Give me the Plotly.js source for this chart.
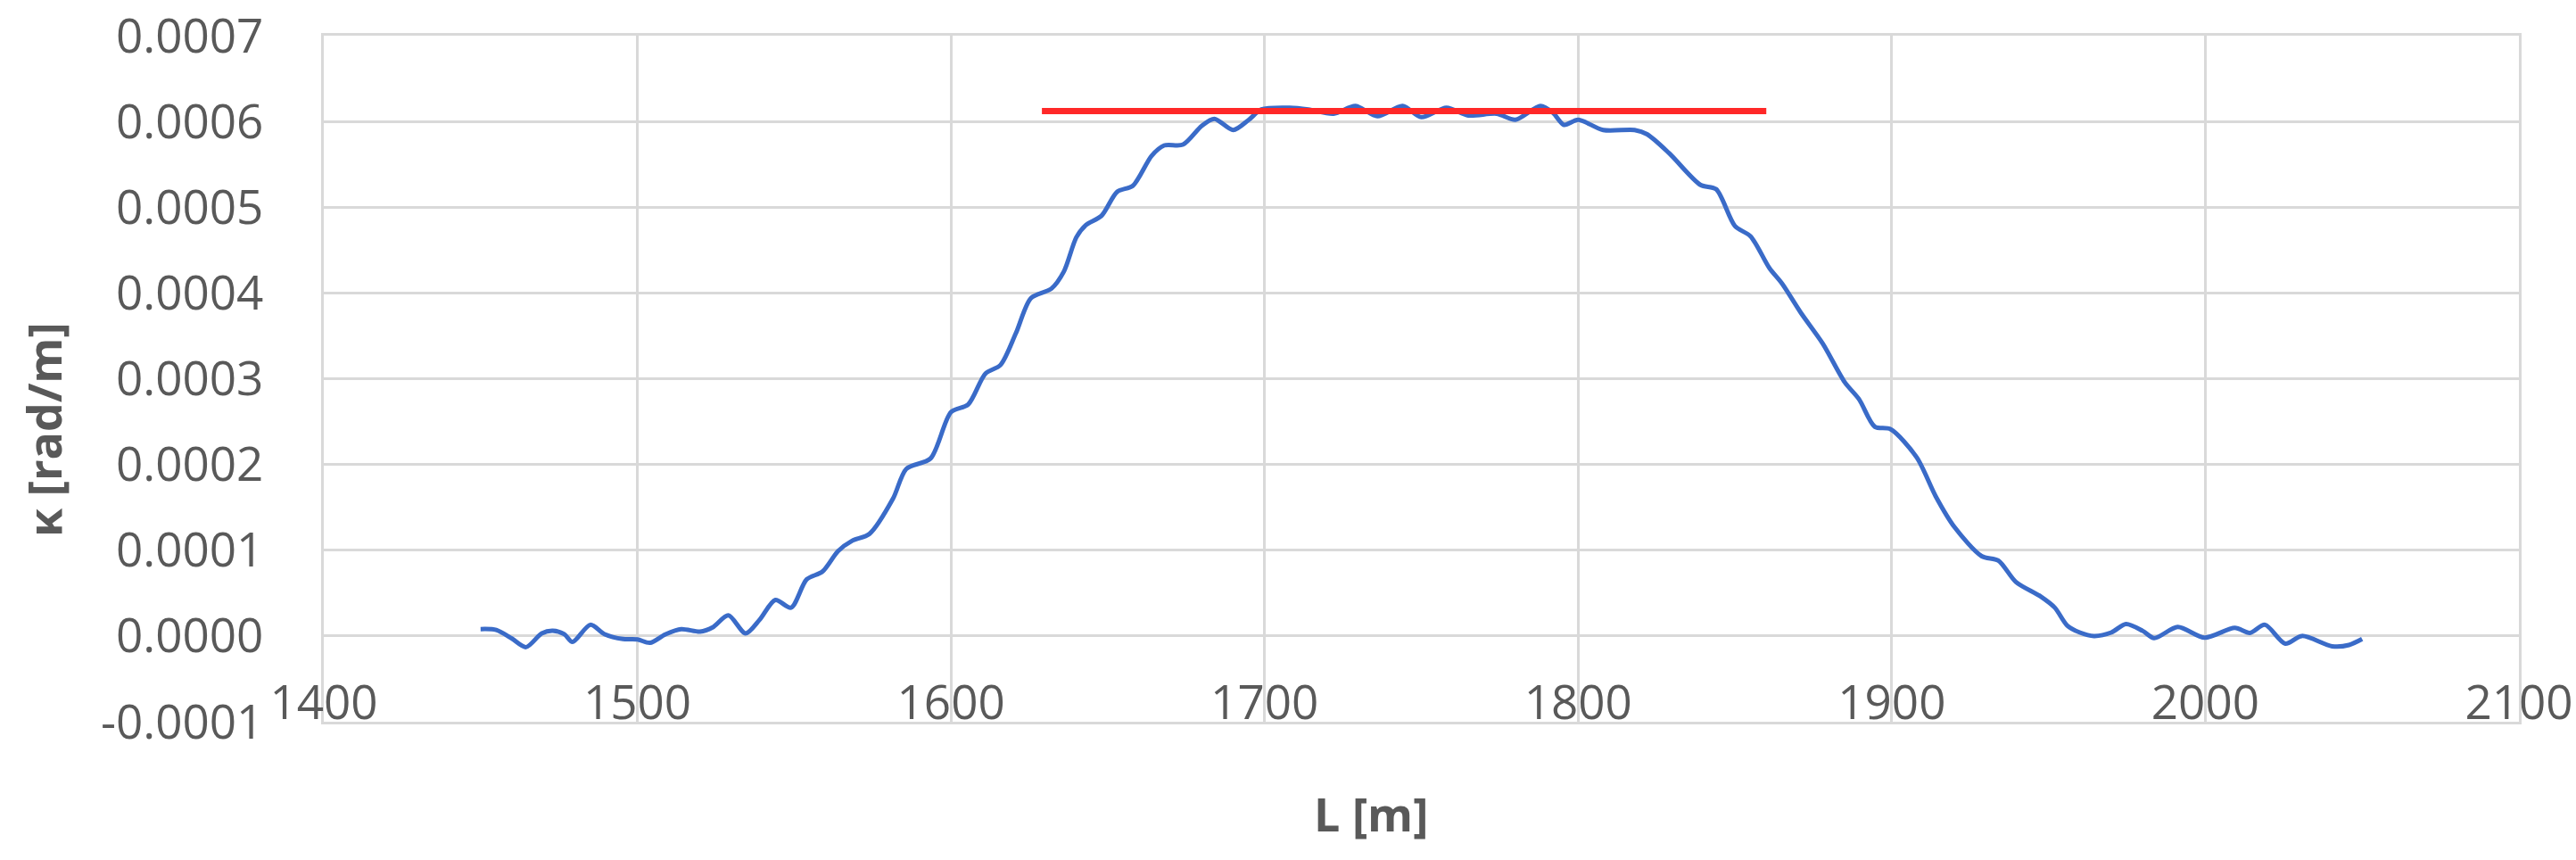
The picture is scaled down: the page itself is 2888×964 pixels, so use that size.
<!DOCTYPE html>
<html>
<head>
<meta charset="utf-8">
<script src="https://cdn.plot.ly/plotly-3.0.1.min.js"></script>
<style>
  body { margin: 0; background: #fff; }
  #plot1 { width: 2888px; height: 964px; }
</style>
</head>
<body>
<div id="plot1"></div>
<script>
// distance along the route [m]
let distance = [1450, 1455, 1460, 1464.5, 1469.5, 1473, 1476.7, 1479.3, 1485, 1489.6,
    1495.4, 1500, 1504, 1509, 1514, 1520, 1524, 1529, 1534.5, 1539,
    1544, 1549, 1554, 1559, 1564, 1568.5, 1574, 1581.5, 1585.8, 1593.5,
    1600, 1605.5, 1611, 1615.8, 1620.7, 1625.5, 1632, 1636, 1640, 1643,
    1648, 1653, 1658, 1664, 1668, 1674, 1680, 1684, 1690, 1695,
    1699, 1708, 1714, 1722, 1729, 1736, 1744, 1750, 1758, 1765,
    1774, 1780, 1788, 1792, 1795.5, 1800, 1808, 1818, 1822, 1829,
    1839, 1844, 1850, 1855, 1861, 1865, 1871, 1878, 1885, 1889.6,
    1894.6, 1899.7, 1908, 1914, 1920, 1928.7, 1934, 1939.6, 1947.5, 1952,
    1956, 1960, 1964.5, 1970, 1974.7, 1980, 1983.7, 1991.2, 1999.8, 2009.4,
    2014.2, 2019, 2025.5, 2030.8, 2040.4, 2045.8, 2050];

// measured curvature [rad/m]
let curvature = [8e-6, 7e-6, -3e-6, -13e-6, 3e-6, 6e-6, 2e-6, -7e-6, 13e-6, 2e-6,
    -3.5e-6, -4e-6, -8e-6, 2e-6, 8e-6, 5e-6, 10e-6, 24e-6, 3e-6, 19e-6,
    42e-6, 33e-6, 66e-6, 75e-6, 99e-6, 111e-6, 119e-6, 160e-6, 195e-6, 207e-6,
    261e-6, 270e-6, 306e-6, 316e-6, 353e-6, 394e-6, 405e-6, 425e-6, 465e-6, 479e-6,
    490e-6, 518e-6, 525e-6, 560e-6, 572e-6, 573e-6, 595e-6, 603e-6, 590e-6, 602e-6,
    614e-6, 616e-6, 614e-6, 609e-6, 618e-6, 606e-6, 618e-6, 605e-6, 616e-6, 607e-6,
    609e-6, 602e-6, 618e-6, 610e-6, 596e-6, 602e-6, 590e-6, 590e-6, 585e-6, 563e-6,
    526e-6, 521e-6, 478e-6, 466e-6, 429e-6, 411e-6, 377e-6, 341e-6, 296e-6, 276e-6,
    244e-6, 241e-6, 208e-6, 163e-6, 127e-6, 93e-6, 88e-6, 63e-6, 46e-6, 33e-6,
    12e-6, 4e-6, 0, 4e-6, 14e-6, 6e-6, -2.5e-6, 10.5e-6, -2e-6, 9.5e-6,
    3.5e-6, 13e-6, -9e-6, 0, -12e-6, -10.5e-6, -3.5e-6];

// design curvature of the arc (red line)
let arcStart = 1629;
let arcEnd = 1860;
let arcCurvature = 0.000612;

// y tick labels (plain hyphen for the negative one, like the original)
let yTickVals = [-0.0001, 0, 0.0001, 0.0002, 0.0003, 0.0004, 0.0005, 0.0006, 0.0007];
let yTickText = ['-0.0001', '0.0000', '0.0001', '0.0002', '0.0003', '0.0004', '0.0005', '0.0006', '0.0007'];

let measured = {
    x: distance,
    y: curvature,
    type: 'scatter',
    mode: 'lines',
    line: {color: '#3a6bc8', width: 5, shape: 'spline', smoothing: 0.8},
    hoverinfo: 'skip'
};

let design = {
    x: [arcStart, arcEnd],
    y: [arcCurvature, arcCurvature],
    type: 'scatter',
    mode: 'lines',
    line: {color: '#ff2828', width: 7},
    hoverinfo: 'skip'
};

let gridColor = '#d9d9d9';
let textColor = '#595959';
let titleFont = {family: 'Open Sans, sans-serif', size: 52, color: textColor};

let layout = {
    width: 2888,
    height: 964,
    margin: {l: 363, r: 64, t: 40, b: 155},
    paper_bgcolor: '#fff',
    plot_bgcolor: '#fff',
    showlegend: false,
    font: {family: 'Open Sans, sans-serif', color: textColor, size: 53},
    xaxis: {
        range: [1400, 2100],
        dtick: 100,
        tick0: 1400,
        showgrid: true,
        gridcolor: gridColor,
        gridwidth: 3,
        zeroline: false,
        showline: true,
        linecolor: gridColor,
        linewidth: 3,
        mirror: true,
        ticks: '',
        ticklabelposition: 'inside',
        ticklabeloverflow: 'allow',
        ticklabelstandoff: 0,
        tickfont: {size: 53, color: textColor}
    },
    yaxis: {
        range: [-0.0001, 0.0007],
        tickmode: 'array',
        tickvals: yTickVals,
        ticktext: yTickText,
        showgrid: true,
        gridcolor: gridColor,
        gridwidth: 3,
        zeroline: false,
        showline: true,
        linecolor: gridColor,
        linewidth: 3,
        mirror: true,
        ticks: '',
        ticklabelstandoff: 54,
        tickfont: {size: 53, color: textColor}
    },
    // axis titles placed as in the original (a bit off the plot centre)
    annotations: [
        {text: '<b>L [m]</b>', xref: 'paper', yref: 'paper', x: 0.477, y: -0.133,
         xanchor: 'center', yanchor: 'middle', showarrow: false, font: titleFont},
        {text: '<b>κ [rad/m]</b>', xref: 'paper', yref: 'paper', x: -0.128, y: 0.4265,
         xanchor: 'center', yanchor: 'middle', textangle: -90, showarrow: false, font: titleFont}
    ]
};

Plotly.newPlot('plot1', [measured, design], layout, {staticPlot: true});
</script>
</body>
</html>
